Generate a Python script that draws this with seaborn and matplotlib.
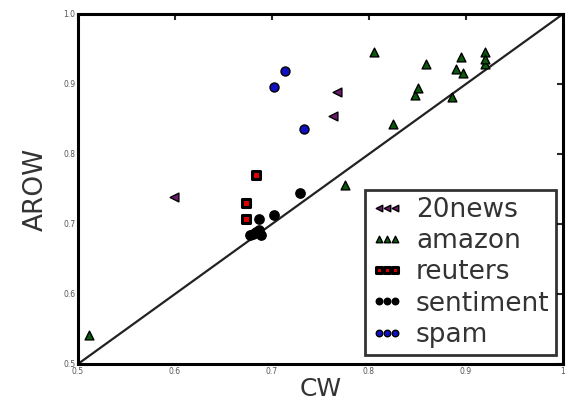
import matplotlib
matplotlib.use("Agg")
import matplotlib.pyplot as plt
import seaborn as sns
import pandas as pd

# ---- data ----
news_cw = [0.599, 0.767, 0.763]
news_arow = [0.739, 0.888, 0.854]

amazon_cw = [0.511, 0.775, 0.825, 0.847, 0.851, 0.886, 0.805, 0.859, 0.890, 0.897,
             0.895, 0.920, 0.920, 0.920]
amazon_arow = [0.541, 0.756, 0.843, 0.884, 0.894, 0.882, 0.946, 0.929, 0.921, 0.915,
               0.938, 0.945, 0.929, 0.935]

reuters_cw = [0.684, 0.673, 0.673]
reuters_arow = [0.770, 0.730, 0.707]

sentiment_cw = [0.687, 0.702, 0.729, 0.677, 0.683, 0.689, 0.687, 0.680]
sentiment_arow = [0.707, 0.713, 0.744, 0.684, 0.689, 0.684, 0.691, 0.686]

spam_cw = [0.713, 0.702, 0.733]
spam_arow = [0.919, 0.895, 0.836]

datasets = ["20news", "amazon", "reuters", "sentiment", "spam"]
xticks = [0.5, 0.6, 0.7, 0.8, 0.9, 1.0]
xtick_labels = ["0.5", "0.6", "0.7", "0.8", "0.9", "1"]
yticks = [0.5, 0.6, 0.7, 0.8, 0.9, 1.0]
ytick_labels = ["0.5", "0.6", "0.7", "0.8", "0.9", "1.0"]

frames = []
for name, xs, ys in [("20news", news_cw, news_arow), ("amazon", amazon_cw, amazon_arow),
                     ("reuters", reuters_cw, reuters_arow),
                     ("sentiment", sentiment_cw, sentiment_arow),
                     ("spam", spam_cw, spam_arow)]:
    frames.append(pd.DataFrame({"CW": xs, "AROW": ys, "dataset": name}))
df = pd.concat(frames, ignore_index=True)

styles = {
    "20news": dict(marker="<", color="#6a1a6a", lw=1.0, s=40),
    "amazon": dict(marker="^", color="#0b5a0b", lw=1.0, s=40),
    "reuters": dict(marker="s", color="#e00000", lw=2.2, s=32),
    "sentiment": dict(marker="o", color="#000000", lw=1.0, s=45),
    "spam": dict(marker="o", color="#1010c0", lw=1.0, s=42),
}

sns.set_style("white")
fig = plt.figure(figsize=(5.68, 4.03), dpi=100)
ax = fig.add_axes([0.1373, 0.0968, 0.8539, 0.8685])

ax.axline((0.5, 0.5), slope=1, color="#222222", lw=1.6, zorder=1)

for name in datasets:
    st = styles[name]
    sns.scatterplot(data=df[df["dataset"] == name], x="CW", y="AROW", ax=ax,
                    marker=st["marker"], color=st["color"], edgecolor="black",
                    linewidth=st["lw"], s=st["s"], label=name, zorder=3)

ax.set_xlim(0.5, 1.0)
ax.set_ylim(0.5, 1.0)
ax.set_xticks(xticks)
ax.set_xticklabels(xtick_labels)
ax.set_yticks(yticks)
ax.set_yticklabels(ytick_labels)
ax.tick_params(direction="in", length=4, width=1.5, top=True, right=True,
               labelsize=5.5, labelcolor="#555555", pad=2)
for sp in ax.spines.values():
    sp.set_linewidth(2.2)
    sp.set_color("black")
    sp.set_visible(True)

ax.set_xlabel("CW", fontsize=18, color="#333333", labelpad=1)
ax.set_ylabel("AROW", fontsize=19, color="#333333", labelpad=10)

leg = ax.legend(loc="lower right", bbox_to_anchor=(0.997, 0.012), scatterpoints=3,
                fontsize=19, frameon=True, fancybox=False, borderpad=0.25,
                labelspacing=0.2, handletextpad=0.5, handlelength=1.2,
                borderaxespad=0.2, scatteryoffsets=[0.5])
leg.get_frame().set_edgecolor("black")
leg.get_frame().set_linewidth(2.0)
for h in leg.legend_handles:
    h.set_sizes([22])
for t in leg.get_texts():
    t.set_color("#333333")

fig.savefig("out.png", dpi=100)
